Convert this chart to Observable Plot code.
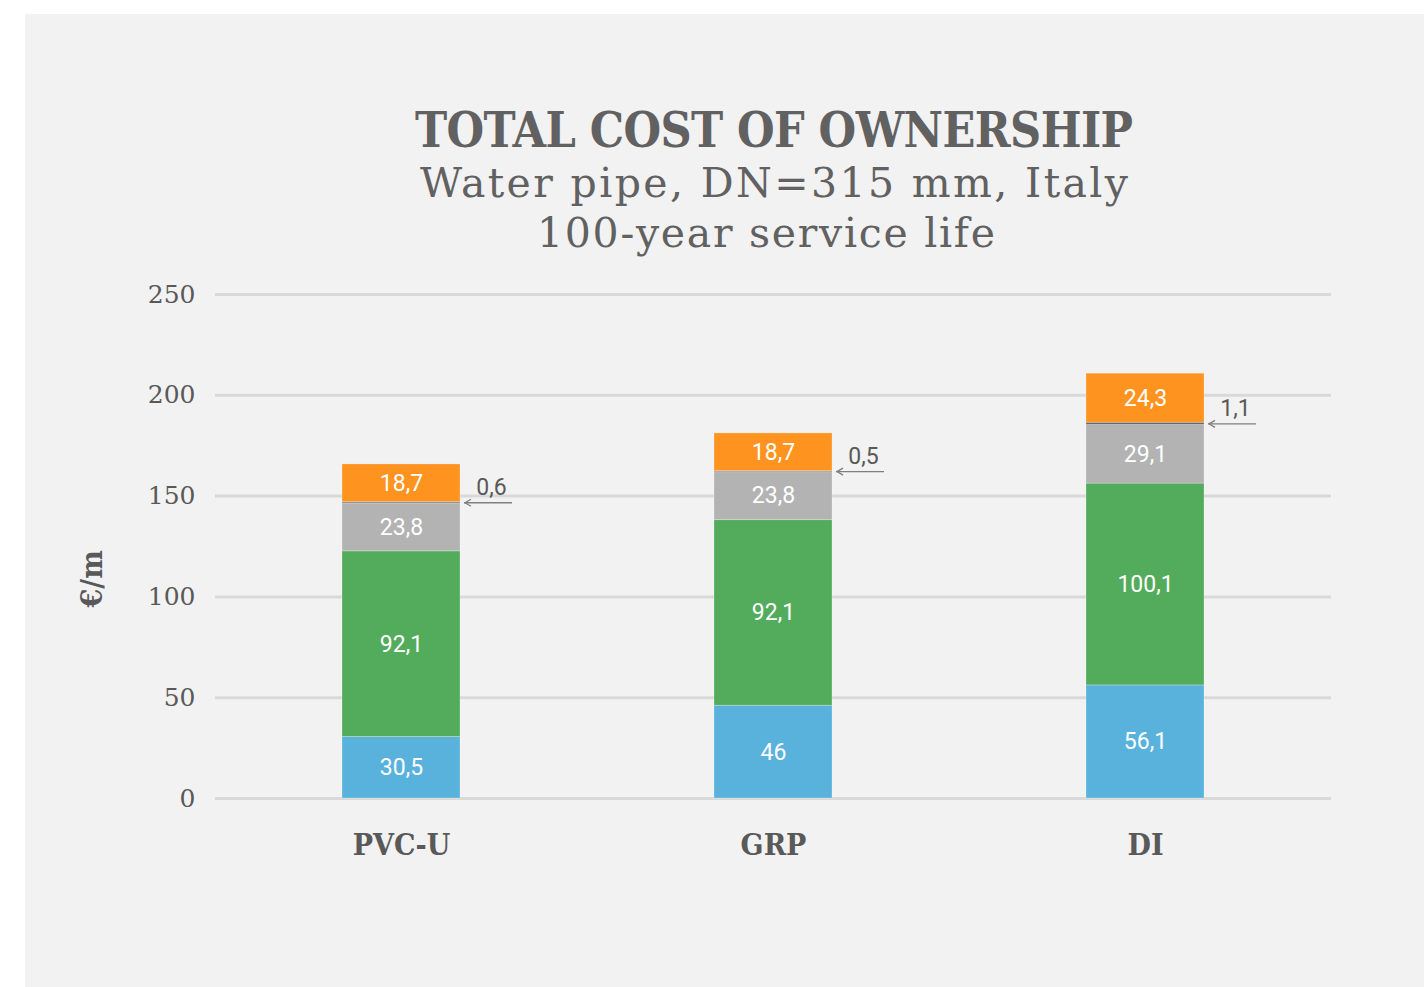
<!DOCTYPE html>
<html>
<head>
<meta charset="utf-8">
<script src="https://cdn.jsdelivr.net/npm/d3@7"></script>
<script src="https://cdn.jsdelivr.net/npm/@observablehq/plot@0.6"></script>
<style>
  html, body { margin: 0; padding: 0; background: #ffffff; }
  #panel { position: absolute; left: 25px; top: 14px; width: 1399px; height: 973px; background: #f2f2f2; overflow: hidden; }
  .t { position: absolute; text-align: center; white-space: nowrap; color: #616161; line-height: 1; }
  #title { font-family: "DejaVu Serif Condensed", "DejaVu Serif", serif; font-stretch: condensed; font-weight: bold; font-size: 48px; }
  #sub1, #sub2 { font-family: "DejaVu Serif", serif; font-size: 41px; font-weight: normal; }
  #chart { position: absolute; left: 0; top: 256px; }
</style>
</head>
<body>
<div id="panel">
  <div class="t" id="title" style="left:249px;width:1000px;top:92px;"><span>TOTAL COST OF OWNERSHIP</span></div>
  <div class="t" id="sub1" style="left:249px;width:1000px;top:149px;"><span>Water pipe, DN=315 mm, Italy</span></div>
  <div class="t" id="sub2" style="left:241px;width:1000px;top:199px;"><span>100-year service life</span></div>
  <div id="chart"></div>
</div>
<script>
// ---- data ----
const categories = ["PVC-U", "GRP", "DI"];
const seriesNames = ["Investment", "Operation", "Maintenance", "Other", "End of life"];
const investment = [30.5, 46, 56.1];
const operation = [92.1, 92.1, 100.1];
const maintenance = [23.8, 23.8, 29.1];
const other = [0.6, 0.5, 1.1];
const endOfLife = [18.7, 18.7, 24.3];
const seriesColors = ["#58b2dc", "#53ab5c", "#b3b3b3", "#666666", "#ff931f"];
const yTicks = [0, 50, 100, 150, 200, 250];
const axisLabel = "€/m";

const seriesValues = [investment, operation, maintenance, other, endOfLife];
const rows = [];
categories.forEach((c, i) => {
  seriesNames.forEach((s, j) => rows.push({cat: c, series: s, value: seriesValues[j][i]}));
});
const fmt = v => String(v).replace(".", ",");
const isSmall = d => d.series === "Other";

// fit title widths via letter-spacing
function fit(id, target) {
  const el = document.getElementById(id);
  const span = el.querySelector("span");
  const natural = span.getBoundingClientRect().width;
  const n = span.textContent.length;
  const s = (target - natural) / (n - 1);
  span.style.letterSpacing = s + "px";
  span.style.marginRight = (-s) + "px";
}
fit("title", 718);
fit("sub1", 708);
fit("sub2", 458);

const chevron = {
  draw(ctx, size) {
    ctx.moveTo(6, -3.5);
    ctx.lineTo(0, 0);
    ctx.lineTo(6, 3.5);
  }
};

const chart = Plot.plot({
  width: 1399,
  height: 640,
  marginLeft: 190,
  marginRight: 93,
  marginTop: 24,
  marginBottom: 112,
  style: {background: "transparent", fontFamily: "DejaVu Serif"},
  x: {domain: categories, paddingInner: 0.682, paddingOuter: 0.341, label: null},
  y: {domain: [0, 250], label: null},
  color: {domain: seriesNames, range: seriesColors},
  marks: [
    Plot.ruleY(yTicks, {stroke: "#d9d9d9", strokeWidth: 3}),
    Plot.axisY(yTicks, {tickSize: 0, tickPadding: 20, fontSize: 25, fontFamily: "DejaVu Serif", color: "#595959", label: null}),
    Plot.axisX({tickSize: 0, tickPadding: 35, fontSize: 30, fontWeight: "bold", fontFamily: "DejaVu Serif Condensed", color: "#595959", label: null}),
    Plot.barY(rows, {x: "cat", y: "value", fill: "series", stroke: "#ffffff", strokeOpacity: 0.25, strokeWidth: 1}),
    Plot.text(rows, Plot.stackY({x: "cat", y: "value", text: d => isSmall(d) ? "" : fmt(d.value), fill: "#ffffff", fontSize: 23, fontFamily: "Roboto"})),
    Plot.text(rows, Plot.stackY({x: "cat", y: "value", text: d => isSmall(d) ? fmt(d.value) : "", fill: "#595959", fontSize: 23, fontFamily: "Roboto", dx: 90, dy: -15})),
    Plot.tickY(rows, Plot.stackY({x: "cat", y: "value", stroke: "#7f7f7f", strokeWidth: 1.3, strokeOpacity: d => isSmall(d) ? 1 : 0, dx: 122, insetRight: 70})),
    Plot.dot(rows, Plot.stackY({x: "cat", y: "value", symbol: chevron, r: 3, fill: "none", stroke: "#7f7f7f", strokeWidth: 1.3, strokeOpacity: d => isSmall(d) ? 1 : 0, dx: 63.5})),
    Plot.text([axisLabel], {frameAnchor: "left", dx: -123, dy: 61, rotate: -90, fontSize: 30, fontWeight: "bold", fontFamily: "DejaVu Serif Condensed", fill: "#595959"})
  ]
});
document.getElementById("chart").appendChild(chart);
</script>
</body>
</html>
